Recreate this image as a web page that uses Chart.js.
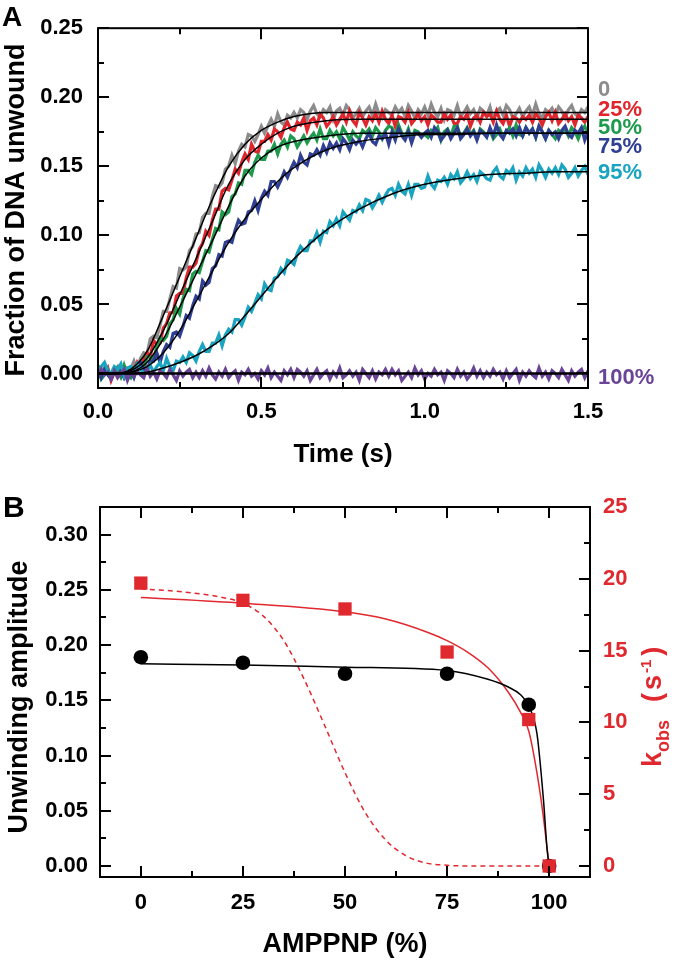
<!DOCTYPE html>
<html lang="en">
<head>
<meta charset="UTF-8">
<title>DNA unwinding vs AMPPNP</title>
<script src="https://cdn.jsdelivr.net/npm/chart.js"></script>
<style>
  html, body { margin: 0; padding: 0; background: #fff; }
  .panel { position: absolute; left: 0; width: 680px; }
  #panelA { top: 0; height: 470px; }
  #panelB { top: 470px; height: 494px; }
</style>
</head>
<body>
<div class="panel" id="panelA"><canvas id="chartA" width="680" height="470"></canvas></div>
<div class="panel" id="panelB"><canvas id="chartB" width="680" height="494"></canvas></div>
<script>
// ---------- panel A: unwinding time courses ----------
const times = [
  0.00, 0.01, 0.02, 0.03, 0.04, 0.05, 0.06, 0.07, 0.08, 0.09,
  0.10, 0.11, 0.12, 0.13, 0.14, 0.15, 0.16, 0.17, 0.18, 0.19,
  0.20, 0.21, 0.22, 0.23, 0.24, 0.25, 0.26, 0.27, 0.28, 0.29,
  0.30, 0.31, 0.32, 0.33, 0.34, 0.35, 0.36, 0.37, 0.38, 0.39,
  0.40, 0.41, 0.42, 0.43, 0.44, 0.45, 0.46, 0.47, 0.48, 0.49,
  0.50, 0.51, 0.52, 0.53, 0.54, 0.55, 0.56, 0.57, 0.58, 0.59,
  0.60, 0.61, 0.62, 0.63, 0.64, 0.65, 0.66, 0.67, 0.68, 0.69,
  0.70, 0.71, 0.72, 0.73, 0.74, 0.75, 0.76, 0.77, 0.78, 0.79,
  0.80, 0.81, 0.82, 0.83, 0.84, 0.85, 0.86, 0.87, 0.88, 0.89,
  0.90, 0.91, 0.92, 0.93, 0.94, 0.95, 0.96, 0.97, 0.98, 0.99,
  1.00, 1.01, 1.02, 1.03, 1.04, 1.05, 1.06, 1.07, 1.08, 1.09,
  1.10, 1.11, 1.12, 1.13, 1.14, 1.15, 1.16, 1.17, 1.18, 1.19,
  1.20, 1.21, 1.22, 1.23, 1.24, 1.25, 1.26, 1.27, 1.28, 1.29,
  1.30, 1.31, 1.32, 1.33, 1.34, 1.35, 1.36, 1.37, 1.38, 1.39,
  1.40, 1.41, 1.42, 1.43, 1.44, 1.45, 1.46, 1.47, 1.48, 1.49,
  1.50
];
const trace0 = [
  0.003, -0.002, 0.004, 0.001, -0.004, 0.002, 0.005, -0.001, -0.003, 0.003,
  0.003, 0.009, 0.002, 0.011, 0.015, 0.014, 0.025, 0.027, 0.026, 0.035,
  0.045, 0.045, 0.054, 0.063, 0.062, 0.076, 0.075, 0.077, 0.089, 0.092,
  0.101, 0.102, 0.113, 0.116, 0.116, 0.128, 0.136, 0.135, 0.138, 0.148,
  0.150, 0.158, 0.152, 0.161, 0.166, 0.164, 0.173, 0.172, 0.168, 0.173,
  0.179, 0.174, 0.179, 0.184, 0.179, 0.188, 0.182, 0.180, 0.187, 0.185,
  0.189, 0.185, 0.191, 0.189, 0.184, 0.190, 0.194, 0.188, 0.186, 0.191,
  0.189, 0.193, 0.184, 0.190, 0.192, 0.187, 0.194, 0.191, 0.185, 0.188,
  0.192, 0.186, 0.190, 0.193, 0.187, 0.195, 0.188, 0.185, 0.191, 0.189,
  0.187, 0.193, 0.189, 0.192, 0.186, 0.194, 0.190, 0.185, 0.191, 0.188,
  0.193, 0.187, 0.195, 0.189, 0.186, 0.192, 0.184, 0.191, 0.190, 0.187,
  0.194, 0.186, 0.189, 0.193, 0.188, 0.191, 0.185, 0.192, 0.190, 0.187,
  0.193, 0.184, 0.190, 0.192, 0.187, 0.194, 0.191, 0.185, 0.188, 0.192,
  0.186, 0.190, 0.193, 0.187, 0.195, 0.188, 0.185, 0.191, 0.189, 0.192,
  0.187, 0.193, 0.190, 0.185, 0.191, 0.194, 0.188, 0.186, 0.191, 0.189,
  0.193
];
const trace25 = [
  -0.003, 0.002, 0.000, 0.004, -0.005, 0.001, 0.003, -0.002, 0.005, 0.003,
  -0.002, 0.002, 0.008, 0.004, 0.010, 0.015, 0.012, 0.024, 0.021, 0.022,
  0.033, 0.036, 0.044, 0.044, 0.056, 0.058, 0.058, 0.069, 0.077, 0.077,
  0.080, 0.090, 0.094, 0.103, 0.100, 0.111, 0.119, 0.119, 0.132, 0.134,
  0.133, 0.140, 0.148, 0.145, 0.153, 0.159, 0.155, 0.166, 0.161, 0.160,
  0.168, 0.168, 0.173, 0.169, 0.177, 0.175, 0.171, 0.178, 0.182, 0.177,
  0.176, 0.182, 0.180, 0.185, 0.176, 0.183, 0.185, 0.180, 0.188, 0.185,
  0.179, 0.182, 0.186, 0.180, 0.184, 0.188, 0.182, 0.190, 0.183, 0.180,
  0.189, 0.185, 0.180, 0.186, 0.183, 0.188, 0.182, 0.190, 0.184, 0.181,
  0.187, 0.179, 0.186, 0.185, 0.182, 0.189, 0.181, 0.184, 0.188, 0.183,
  0.186, 0.180, 0.187, 0.185, 0.182, 0.182, 0.188, 0.184, 0.187, 0.181,
  0.181, 0.186, 0.184, 0.188, 0.179, 0.185, 0.187, 0.182, 0.189, 0.186,
  0.188, 0.182, 0.190, 0.184, 0.181, 0.187, 0.179, 0.186, 0.185, 0.182,
  0.186, 0.184, 0.187, 0.182, 0.188, 0.185, 0.180, 0.186, 0.189, 0.183,
  0.189, 0.181, 0.184, 0.188, 0.183, 0.186, 0.180, 0.187, 0.185, 0.182,
  0.186
];
const trace50 = [
  0.006, -0.004, -0.001, 0.003, -0.003, 0.001, 0.004, -0.002, 0.006, -0.001,
  -0.003, 0.004, 0.003, 0.008, 0.004, 0.012, 0.012, 0.010, 0.020, 0.026,
  0.024, 0.027, 0.036, 0.039, 0.047, 0.043, 0.054, 0.061, 0.060, 0.072,
  0.074, 0.073, 0.081, 0.089, 0.088, 0.097, 0.105, 0.104, 0.117, 0.115,
  0.117, 0.128, 0.130, 0.138, 0.137, 0.147, 0.147, 0.144, 0.153, 0.158,
  0.155, 0.155, 0.161, 0.161, 0.166, 0.159, 0.166, 0.169, 0.164, 0.172,
  0.170, 0.164, 0.168, 0.172, 0.167, 0.171, 0.174, 0.169, 0.177, 0.170,
  0.170, 0.176, 0.172, 0.175, 0.170, 0.178, 0.174, 0.169, 0.175, 0.172,
  0.170, 0.176, 0.174, 0.177, 0.172, 0.178, 0.175, 0.170, 0.176, 0.179,
  0.178, 0.172, 0.180, 0.174, 0.171, 0.177, 0.169, 0.176, 0.175, 0.172,
  0.173, 0.171, 0.176, 0.174, 0.178, 0.169, 0.175, 0.177, 0.172, 0.179,
  0.179, 0.171, 0.174, 0.178, 0.173, 0.176, 0.170, 0.177, 0.175, 0.172,
  0.176, 0.170, 0.173, 0.177, 0.171, 0.175, 0.178, 0.172, 0.180, 0.173,
  0.172, 0.178, 0.174, 0.177, 0.171, 0.179, 0.175, 0.170, 0.176, 0.173,
  0.170, 0.176, 0.174, 0.177, 0.172, 0.178, 0.175, 0.170, 0.176, 0.179,
  0.173
];
const trace75 = [
  0.002, -0.003, 0.003, -0.001, -0.004, 0.001, -0.002, 0.002, -0.003, 0.002,
  0.002, -0.003, 0.004, 0.008, 0.003, 0.002, 0.009, 0.009, 0.015, 0.008,
  0.016, 0.021, 0.019, 0.029, 0.030, 0.027, 0.034, 0.042, 0.040, 0.049,
  0.056, 0.054, 0.067, 0.064, 0.066, 0.076, 0.078, 0.086, 0.085, 0.095,
  0.096, 0.095, 0.104, 0.111, 0.108, 0.109, 0.117, 0.118, 0.125, 0.118,
  0.127, 0.132, 0.129, 0.139, 0.139, 0.135, 0.140, 0.146, 0.142, 0.148,
  0.153, 0.149, 0.158, 0.153, 0.151, 0.159, 0.158, 0.162, 0.158, 0.165,
  0.160, 0.167, 0.163, 0.167, 0.162, 0.170, 0.167, 0.162, 0.169, 0.166,
  0.169, 0.164, 0.170, 0.174, 0.168, 0.166, 0.172, 0.170, 0.174, 0.166,
  0.175, 0.169, 0.177, 0.172, 0.169, 0.175, 0.167, 0.174, 0.174, 0.171,
  0.174, 0.176, 0.171, 0.178, 0.175, 0.169, 0.172, 0.176, 0.170, 0.174,
  0.178, 0.170, 0.173, 0.177, 0.172, 0.175, 0.169, 0.176, 0.174, 0.171,
  0.178, 0.172, 0.180, 0.173, 0.170, 0.176, 0.174, 0.177, 0.172, 0.178,
  0.172, 0.178, 0.174, 0.177, 0.171, 0.179, 0.175, 0.170, 0.176, 0.173,
  0.175, 0.170, 0.176, 0.179, 0.173, 0.171, 0.176, 0.174, 0.178, 0.169,
  0.175
];
const trace95 = [
  -0.001, 0.005, 0.008, 0.002, 0.000, 0.005, 0.003, 0.007, -0.002, 0.004,
  0.005, 0.000, 0.007, 0.004, -0.001, 0.002, 0.006, 0.001, 0.005, 0.008,
  0.002, 0.011, 0.005, 0.002, 0.009, 0.008, 0.012, 0.008, 0.015, 0.013,
  0.009, 0.016, 0.021, 0.016, 0.016, 0.022, 0.022, 0.028, 0.020, 0.028,
  0.032, 0.030, 0.039, 0.039, 0.035, 0.041, 0.048, 0.045, 0.051, 0.057,
  0.054, 0.065, 0.061, 0.060, 0.069, 0.070, 0.076, 0.073, 0.082, 0.081,
  0.079, 0.087, 0.092, 0.089, 0.089, 0.096, 0.096, 0.102, 0.095, 0.103,
  0.102, 0.110, 0.107, 0.112, 0.107, 0.117, 0.114, 0.111, 0.118, 0.117,
  0.122, 0.118, 0.126, 0.125, 0.120, 0.124, 0.129, 0.124, 0.129, 0.133,
  0.134, 0.129, 0.137, 0.132, 0.130, 0.137, 0.129, 0.137, 0.137, 0.134,
  0.135, 0.143, 0.137, 0.134, 0.140, 0.139, 0.142, 0.137, 0.144, 0.141,
  0.146, 0.138, 0.141, 0.146, 0.141, 0.144, 0.139, 0.146, 0.144, 0.141,
  0.140, 0.146, 0.149, 0.143, 0.141, 0.147, 0.145, 0.149, 0.140, 0.146,
  0.143, 0.149, 0.145, 0.148, 0.142, 0.151, 0.147, 0.142, 0.148, 0.145,
  0.149, 0.144, 0.151, 0.148, 0.142, 0.145, 0.149, 0.143, 0.147, 0.150,
  0.144
];
const trace100 = [
  -0.002, 0.003, -0.001, 0.001, -0.004, 0.002, -0.003, 0.000, 0.003, -0.005,
  0.001, -0.002, 0.002, -0.001, -0.003, 0.004, -0.002, 0.001, -0.004, 0.002,
  0.000, -0.003, 0.003, -0.001, -0.005, 0.002, -0.002, 0.001, 0.003, -0.003,
  0.001, -0.003, 0.002, -0.002, 0.004, -0.001, -0.004, 0.001, -0.002, 0.003,
  -0.003, 0.000, 0.002, -0.005, 0.001, -0.001, 0.003, -0.002, 0.000, -0.004,
  0.002, -0.001, 0.004, -0.003, 0.001, -0.002, -0.005, 0.002, -0.001, 0.003,
  -0.003, 0.003, 0.001, -0.002, 0.002, -0.005, -0.001, 0.003, -0.003, 0.000,
  0.002, -0.004, 0.001, -0.002, 0.004, -0.003, -0.001, 0.002, -0.002, 0.001,
  -0.005, 0.003, 0.000, -0.003, 0.002, -0.004, 0.001, -0.001, 0.003, -0.002,
  0.003, -0.001, 0.002, -0.005, -0.002, 0.001, -0.003, 0.004, -0.001, 0.002,
  -0.004, 0.000, -0.002, 0.003, -0.001, 0.001, -0.005, 0.002, 0.000, -0.003,
  0.003, -0.002, 0.001, -0.004, -0.001, 0.004, -0.002, 0.002, -0.003, 0.001,
  -0.002, 0.003, -0.001, 0.001, -0.004, 0.002, -0.003, 0.000, 0.003, -0.005,
  0.001, -0.002, 0.002, -0.001, -0.003, 0.004, -0.002, 0.001, -0.004, 0.002,
  0.000, -0.003, 0.003, -0.001, -0.005, 0.002, -0.002, 0.001, 0.003, -0.003,
  0.002
];

// fitted curves (black)
const fitTimes = [0, 0.05, 0.1, 0.15, 0.2, 0.25, 0.3, 0.35, 0.4, 0.45, 0.5, 0.55, 0.6, 0.7, 0.8, 0.9, 1.0, 1.1, 1.2, 1.3, 1.4, 1.5];
const fit0   = [0, 0, 0.003, 0.016, 0.042, 0.070, 0.098, 0.126, 0.150, 0.166, 0.176, 0.182, 0.186, 0.189, 0.189, 0.189, 0.189, 0.189, 0.189, 0.189, 0.189, 0.189];
const fit25  = [0, 0, 0.002, 0.011, 0.031, 0.057, 0.083, 0.110, 0.137, 0.155, 0.166, 0.174, 0.179, 0.183, 0.184, 0.184, 0.184, 0.184, 0.184, 0.184, 0.184, 0.184];
const fit50  = [0, 0, 0.001, 0.008, 0.025, 0.048, 0.072, 0.096, 0.121, 0.143, 0.156, 0.164, 0.168, 0.172, 0.174, 0.174, 0.174, 0.174, 0.174, 0.174, 0.174, 0.174];
const fit75  = [0, 0, 0.001, 0.005, 0.015, 0.031, 0.052, 0.074, 0.095, 0.112, 0.126, 0.139, 0.149, 0.162, 0.168, 0.171, 0.173, 0.173, 0.174, 0.174, 0.174, 0.174];
const fit95  = [0, 0, 0, 0.001, 0.004, 0.008, 0.013, 0.020, 0.029, 0.042, 0.056, 0.070, 0.083, 0.104, 0.119, 0.130, 0.137, 0.141, 0.144, 0.145, 0.146, 0.146];
const fit100 = [0, 0, 0, 0, 0, 0, 0, 0, 0, 0, 0, 0, 0, 0, 0, 0, 0, 0, 0, 0, 0, 0];

const seriesNames = ['0', '25%', '50%', '75%', '95%', '100%'];
const seriesColors = ['#8c8c8c', '#e1252d', '#1d9a4b', '#2f3f93', '#19a4c0', '#6a4497'];

const aXTicks = [0, 0.5, 1.0, 1.5];
const aXTickLabels = ['0.0', '0.5', '1.0', '1.5'];
const aYTicks = [0, 0.05, 0.10, 0.15, 0.20, 0.25];
const aYTickLabels = ['0.00', '0.05', '0.10', '0.15', '0.20', '0.25'];

// ---------- panel B: amplitude and rate vs AMPPNP ----------
const amppnp = [0, 25, 50, 75, 95, 100];
const amplitude = [0.189, 0.184, 0.174, 0.174, 0.146, 0];
const kobs = [19.7, 18.5, 17.9, 14.9, 10.2, 0];

const ampFitX = [0, 25, 50, 75, 85, 90, 93, 95, 97, 98.6, 99.5, 100];
const ampFit  = [0.183, 0.182, 0.180, 0.177, 0.169, 0.162, 0.155, 0.145, 0.120, 0.060, 0.015, 0];
const kobsFitX = [0, 25, 50, 60, 70, 75, 80, 85, 90, 93, 95, 97, 98.5, 99.5, 100];
const kobsFit  = [18.7, 18.3, 17.7, 17.2, 16.3, 15.7, 14.9, 13.8, 12.1, 10.7, 9.4, 6.5, 3.6, 1.2, 0];
const kobsDashX = [0, 10, 20, 25, 30, 35, 40, 45, 50, 55, 60, 65, 70, 75, 80, 100];
const kobsDash  = [19.3, 19.1, 18.7, 18.3, 17.4, 15.7, 13.0, 9.8, 6.5, 3.7, 1.8, 0.7, 0.2, 0.05, 0, 0];

const bXTicks = [0, 25, 50, 75, 100];
const bXTickLabels = ['0', '25', '50', '75', '100'];
const bYTicks = [0, 0.05, 0.10, 0.15, 0.20, 0.25, 0.30];
const bYTickLabels = ['0.00', '0.05', '0.10', '0.15', '0.20', '0.25', '0.30'];
const bY1Ticks = [0, 5, 10, 15, 20, 25];
const bY1TickLabels = ['0', '5', '10', '15', '20', '25'];

// ---------- shared setup ----------
const FONT = '"Liberation Sans", Arial, Helvetica, sans-serif';
const RED = '#e0282f';
Chart.defaults.font.family = FONT;
Chart.defaults.font.weight = 'bold';
Chart.defaults.color = '#000';

const traces = [trace0, trace25, trace50, trace75, trace95, trace100];
const fits = [fit0, fit25, fit50, fit75, fit95, fit100];
traces.forEach((d, i) => { if (d.length !== times.length) throw new Error('trace ' + i + ' has ' + d.length); });

const pts = (xs, ys) => xs.map((x, i) => ({ x: x, y: ys[i] }));
const midpoints = arr => arr.slice(1).map((v, i) => (v + arr[i]) / 2);

function axis(opts) {
  return {
    type: 'linear',
    position: opts.position,
    min: opts.min,
    max: opts.max,
    grid: { display: false, drawTicks: false },
    border: { display: false },
    afterBuildTicks: s => { s.ticks = opts.ticks.map(v => ({ value: v })); },
    afterFit: s => { if (opts.width) s.width = opts.width; if (opts.height) s.height = opts.height; },
    ticks: {
      padding: opts.padding,
      color: opts.color || '#000',
      font: { size: 22, weight: 'bold' },
      maxRotation: 0,
      callback: (v, i) => opts.labels[i]
    }
  };
}

// frame box + inward tick marks
const frameTicks = {
  id: 'frameTicks',
  afterDatasetsDraw(chart, args, opts) {
    const { ctx, chartArea: a } = chart;
    ctx.save();
    ctx.strokeStyle = '#000';
    ctx.lineWidth = 2;
    ctx.strokeRect(a.left, a.top, a.right - a.left, a.bottom - a.top);
    ctx.beginPath();
    opts.axes.forEach(ax => {
      const s = chart.scales[ax.id];
      const marks = ax.major.map(v => [v, 11]).concat(ax.minor.map(v => [v, 6]));
      marks.forEach(([v, len]) => {
        const p = Math.round(s.getPixelForValue(v));
        if (s.isHorizontal()) {
          ctx.moveTo(p, a.bottom); ctx.lineTo(p, a.bottom - len);
          ctx.moveTo(p, a.top); ctx.lineTo(p, a.top + len);
        } else if (ax.side === 'right') {
          ctx.moveTo(a.right, p); ctx.lineTo(a.right - len, p);
        } else {
          ctx.moveTo(a.left, p); ctx.lineTo(a.left + len, p);
          if (ax.mirror) { ctx.moveTo(a.right, p); ctx.lineTo(a.right - len, p); }
        }
      });
    });
    ctx.stroke();
    ctx.restore();
  }
};

function rotatedText(ctx, text, x, y) {
  ctx.save();
  ctx.translate(x, y);
  ctx.rotate(-Math.PI / 2);
  ctx.textAlign = 'center';
  ctx.textBaseline = 'middle';
  ctx.fillText(text, 0, 0);
  ctx.restore();
}

// ---------- panel A chart ----------
const annotA = {
  id: 'annotA',
  afterDraw(chart, args, opts) {
    const { ctx, chartArea: a, scales } = chart;
    ctx.save();
    ctx.fillStyle = '#000';
    ctx.font = 'bold 28px ' + FONT;
    ctx.textAlign = 'left';
    ctx.textBaseline = 'alphabetic';
    ctx.fillText('A', 2, 26);
    ctx.font = 'bold 26px ' + FONT;
    ctx.textAlign = 'center';
    ctx.textBaseline = 'middle';
    ctx.fillText('Time (s)', (a.left + a.right) / 2, 455);
    ctx.font = 'bold 27px ' + FONT;
    rotatedText(ctx, 'Fraction of DNA unwound', 17, (a.top + a.bottom) / 2 + 2);
    ctx.font = 'bold 22px ' + FONT;
    ctx.textAlign = 'left';
    seriesNames.forEach((name, i) => {
      ctx.fillStyle = seriesColors[i];
      ctx.fillText(name, a.right + 10, scales.y.getPixelForValue(opts.anchors[i]));
    });
    ctx.restore();
  }
};

new Chart(document.getElementById('chartA'), {
  type: 'line',
  data: {
    datasets: traces.map((d, i) => ({
      data: pts(times, d),
      borderColor: seriesColors[i],
      borderWidth: 3.2,
      pointRadius: 0,
      tension: 0,
      order: 10 - i
    })).concat(fits.map((d, i) => ({
      data: pts(fitTimes, d),
      borderColor: '#000',
      borderWidth: i === 5 ? 2.5 : 1.5,
      pointRadius: 0,
      cubicInterpolationMode: 'monotone',
      order: 0
    })))
  },
  options: {
    responsive: false,
    animation: false,
    layout: { padding: { left: 0, right: 92, top: 15, bottom: 0 } },
    scales: {
      x: axis({ position: 'bottom', min: 0, max: 1.5, ticks: aXTicks, labels: aXTickLabels, padding: 11, height: 82 }),
      y: axis({ position: 'left', min: -0.0105, max: 0.25, ticks: aYTicks, labels: aYTickLabels, padding: 15, width: 98 })
    },
    plugins: {
      legend: { display: false },
      tooltip: { enabled: false },
      frameTicks: {
        axes: [
          { id: 'x', major: aXTicks, minor: midpoints(aXTicks) },
          { id: 'y', major: aYTicks, minor: midpoints(aYTicks), mirror: true }
        ]
      },
      annotA: { anchors: [0.205, 0.191, 0.178, 0.164, 0.145, -0.003] }
    }
  },
  plugins: [frameTicks, annotA]
});

// ---------- panel B chart ----------
const annotB = {
  id: 'annotB',
  afterDraw(chart) {
    const { ctx, chartArea: a } = chart;
    ctx.save();
    ctx.fillStyle = '#000';
    ctx.font = 'bold 30px ' + FONT;
    ctx.textAlign = 'left';
    ctx.textBaseline = 'alphabetic';
    ctx.fillText('B', 3, 47);
    ctx.font = 'bold 27px ' + FONT;
    ctx.textAlign = 'center';
    ctx.textBaseline = 'middle';
    ctx.fillText('AMPPNP (%)', (a.left + a.right) / 2, 475);
    rotatedText(ctx, 'Unwinding amplitude', 20, 227);

    // right title: k_obs (s^-1), rotated, reading upward
    ctx.save();
    ctx.fillStyle = RED;
    ctx.translate(661, 297);
    ctx.rotate(-Math.PI / 2);
    ctx.textAlign = 'left';
    ctx.textBaseline = 'alphabetic';
    let x = 0;
    const piece = (t, size, dy, gap) => {
      ctx.font = 'bold ' + size + 'px ' + FONT;
      ctx.fillText(t, x, dy);
      x += ctx.measureText(t).width + gap;
    };
    piece('k', 27, 0, 0);
    piece('obs', 18, 8, 18);
    piece('(', 27, 0, 3);
    piece('s', 27, 0, 2);
    piece('-1', 15, -10, 4);
    piece(')', 27, 0, 0);
    ctx.restore();
    ctx.restore();
  }
};

new Chart(document.getElementById('chartB'), {
  type: 'scatter',
  data: {
    datasets: [
      { data: pts(amppnp, kobs), yAxisID: 'y1', pointStyle: 'rect', pointRadius: 9.4, backgroundColor: RED, borderWidth: 0, order: 0 },
      { data: pts(amppnp, amplitude), yAxisID: 'y', pointStyle: 'circle', pointRadius: 7.3, backgroundColor: '#000', borderWidth: 0, order: 1 },
      { type: 'line', data: pts(ampFitX, ampFit), yAxisID: 'y', borderColor: '#000', borderWidth: 1.5, pointRadius: 0, cubicInterpolationMode: 'monotone', order: 2 },
      { type: 'line', data: pts(kobsFitX, kobsFit), yAxisID: 'y1', borderColor: RED, borderWidth: 1.5, pointRadius: 0, cubicInterpolationMode: 'monotone', order: 3 },
      { type: 'line', data: pts(kobsDashX, kobsDash), yAxisID: 'y1', borderColor: RED, borderWidth: 1.5, borderDash: [5, 4], pointRadius: 0, cubicInterpolationMode: 'monotone', order: 4 }
    ]
  },
  options: {
    responsive: false,
    animation: false,
    layout: { padding: { left: 0, right: 0, top: 37, bottom: 0 } },
    scales: {
      x: axis({ position: 'bottom', min: -10, max: 110, ticks: bXTicks, labels: bXTickLabels, padding: 13, height: 87 }),
      y: axis({ position: 'left', min: -0.01, max: 0.325, ticks: bYTicks, labels: bYTickLabels, padding: 12, width: 100 }),
      y1: axis({ position: 'right', min: -0.766, max: 25, ticks: bY1Ticks, labels: bY1TickLabels, padding: 13, width: 90, color: RED })
    },
    plugins: {
      legend: { display: false },
      tooltip: { enabled: false },
      frameTicks: {
        axes: [
          { id: 'x', major: bXTicks, minor: midpoints(bXTicks) },
          { id: 'y', major: bYTicks, minor: midpoints(bYTicks) },
          { id: 'y1', major: bY1Ticks, minor: midpoints(bY1Ticks), side: 'right' }
        ]
      }
    }
  },
  plugins: [frameTicks, annotB]
});
</script>
</body>
</html>
